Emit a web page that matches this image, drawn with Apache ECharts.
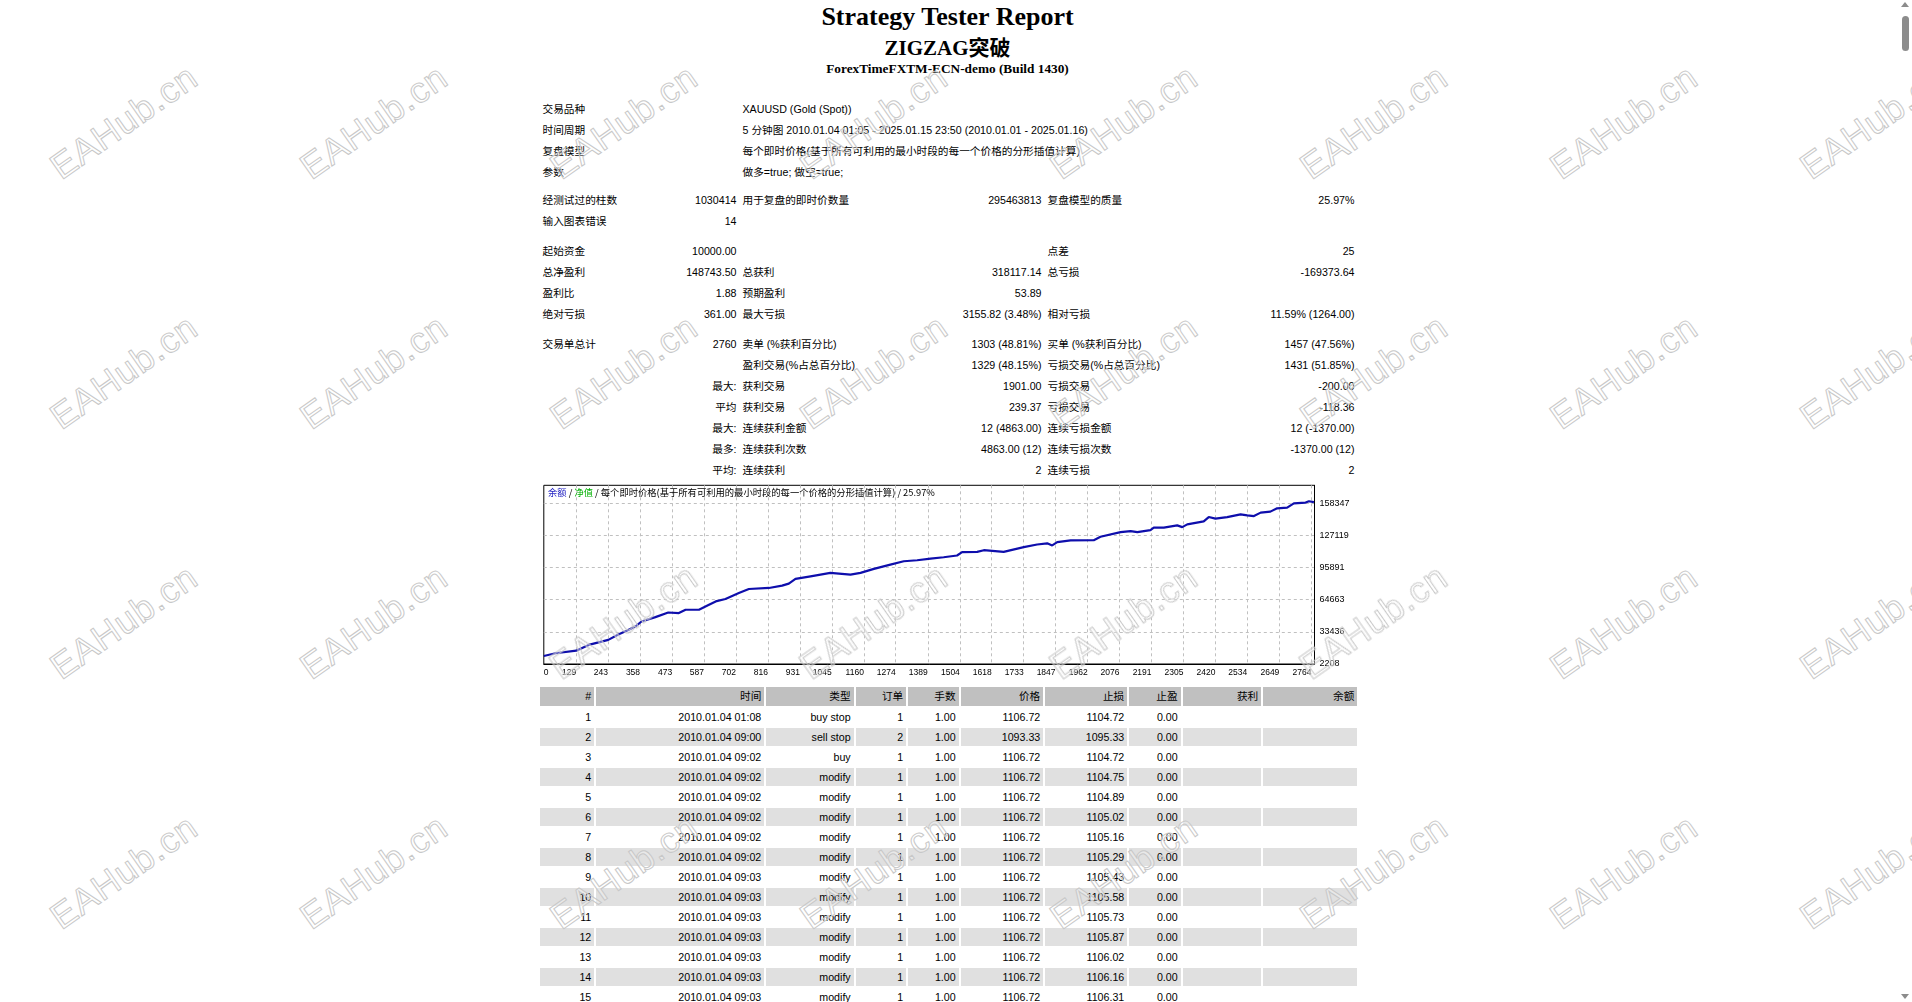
<!DOCTYPE html>
<html>
<head>
<meta charset="utf-8">
<title>Strategy Tester Report</title>
<script src="https://cdn.jsdelivr.net/npm/echarts@6/dist/echarts.min.js"></script>
<style>
html, body { margin:0; padding:0; background:#fff; overflow:hidden; width:1912px; height:1002px; }
body { position:relative; font-family:"Liberation Sans","Noto Sans CJK SC",sans-serif; font-size:10.67px; color:#000; }
.h { position:absolute; left:0; width:1895px; text-align:center; font-family:"Liberation Serif","Noto Sans CJK SC",serif; font-weight:bold; white-space:nowrap; }
#stats { position:absolute; left:539.5px; top:99px; width:818px; }
#stats .row { display:grid; grid-template-columns:100px 100px 152px 153px 150px 163px; height:21px; line-height:21px; }
#stats .row div { padding:0 3px; white-space:nowrap; box-sizing:border-box; }
#stats .r { text-align:right; }
#chart { position:absolute; left:537.5px; top:483px; width:820px; height:200px; }
#trades { position:absolute; left:540px; top:687px; display:grid;
  grid-template-columns:54.3px 168px 87.4px 50.6px 50.4px 82.6px 82px 51.4px 78.6px 94.2px;
  column-gap:2px; row-gap:2px; grid-template-rows:19px; grid-auto-rows:18px; }
#trades div { text-align:right; padding-right:3px; box-sizing:border-box; line-height:18px; white-space:nowrap; }
#trades div.hd { background:#c0c0c0; line-height:19px; }
#trades div.g { background:#e0e0e0; }
.wm { position:absolute; font-family:"Liberation Sans",sans-serif; font-size:36px; color:rgba(255,255,255,0.3);
  -webkit-text-stroke:1px #c8c8c8; transform:translate(-50%,-50%) rotate(-35deg); white-space:nowrap;
  pointer-events:none; z-index:10; letter-spacing:1px; }
#sb-thumb { position:absolute; left:1902px; top:16px; width:7px; height:35px; border-radius:4px; background:#8c8c8c; }
.sb-arrow { position:absolute; left:1901px; width:0; height:0; border-left:4.5px solid transparent; border-right:4.5px solid transparent; }
</style>
</head>
<body>
<div class="h" style="top:2px;font-size:26px;line-height:30px;">Strategy Tester Report</div>
<div class="h" style="top:36px;font-size:21px;line-height:24px;">ZIGZAG突破</div>
<div class="h" style="top:61px;font-size:13.3px;line-height:16px;">ForexTimeFXTM-ECN-demo (Build 1430)</div>

<div id="stats">
  <div class="row"><div style="grid-column:1/3">交易品种</div><div style="grid-column:3/7">XAUUSD (Gold (Spot))</div></div>
  <div class="row"><div style="grid-column:1/3">时间周期</div><div style="grid-column:3/7">5 分钟图 2010.01.04 01:05 - 2025.01.15 23:50 (2010.01.01 - 2025.01.16)</div></div>
  <div class="row"><div style="grid-column:1/3">复盘模型</div><div style="grid-column:3/7">每个即时价格(基于所有可利用的最小时段的每一个价格的分形插值计算)</div></div>
  <div class="row"><div style="grid-column:1/3">参数</div><div style="grid-column:3/7">做多=true; 做空=true;</div></div>
  <div style="height:7px"></div>
  <div class="row"><div>经测试过的柱数</div><div class="r">1030414</div><div>用于复盘的即时价数量</div><div class="r">295463813</div><div>复盘模型的质量</div><div class="r">25.97%</div></div>
  <div class="row"><div>输入图表错误</div><div class="r">14</div><div></div><div></div><div></div><div></div></div>
  <div style="height:9px"></div>
  <div class="row"><div>起始资金</div><div class="r">10000.00</div><div></div><div></div><div>点差</div><div class="r">25</div></div>
  <div class="row"><div>总净盈利</div><div class="r">148743.50</div><div>总获利</div><div class="r">318117.14</div><div>总亏损</div><div class="r">-169373.64</div></div>
  <div class="row"><div>盈利比</div><div class="r">1.88</div><div>预期盈利</div><div class="r">53.89</div><div></div><div></div></div>
  <div class="row"><div>绝对亏损</div><div class="r">361.00</div><div>最大亏损</div><div class="r">3155.82 (3.48%)</div><div>相对亏损</div><div class="r">11.59% (1264.00)</div></div>
  <div style="height:9px"></div>
  <div class="row"><div>交易单总计</div><div class="r">2760</div><div>卖单 (%获利百分比)</div><div class="r">1303 (48.81%)</div><div>买单 (%获利百分比)</div><div class="r">1457 (47.56%)</div></div>
  <div class="row"><div></div><div></div><div>盈利交易(%占总百分比)</div><div class="r">1329 (48.15%)</div><div>亏损交易(%占总百分比)</div><div class="r">1431 (51.85%)</div></div>
  <div class="row"><div></div><div class="r">最大:</div><div>获利交易</div><div class="r">1901.00</div><div>亏损交易</div><div class="r">-200.00</div></div>
  <div class="row"><div></div><div class="r">平均</div><div>获利交易</div><div class="r">239.37</div><div>亏损交易</div><div class="r">-118.36</div></div>
  <div class="row"><div></div><div class="r">最大:</div><div>连续获利金额</div><div class="r">12 (4863.00)</div><div>连续亏损金额</div><div class="r">12 (-1370.00)</div></div>
  <div class="row"><div></div><div class="r">最多:</div><div>连续获利次数</div><div class="r">4863.00 (12)</div><div>连续亏损次数</div><div class="r">-1370.00 (12)</div></div>
  <div class="row"><div></div><div class="r">平均:</div><div>连续获利</div><div class="r">2</div><div>连续亏损</div><div class="r">2</div></div>
</div>

<div id="chart"></div>
<div id="trades"></div>

<div id="sb-thumb"></div>
<div class="sb-arrow" style="top:2px;border-bottom:5px solid #8c8c8c;"></div>
<div class="sb-arrow" style="top:994px;border-top:5px solid #8c8c8c;"></div>

<script>
// 余额曲线
var balanceX = [13, 55, 129, 174, 244, 282, 312, 341, 363, 413,
  459, 497, 521, 569, 605, 629, 664, 712, 748, 820,
  867, 891, 915, 921, 969, 1040, 1112, 1148, 1196, 1255,
  1303, 1351, 1399, 1446, 1494, 1512, 1566, 1590, 1661, 1733,
  1781, 1817, 1835, 1853, 1901, 1984, 2008, 2080, 2116, 2140,
  2187, 2199, 2235, 2283, 2301, 2319, 2378, 2396, 2420, 2462,
  2510, 2534, 2558, 2582, 2617, 2641, 2677, 2701, 2743, 2755, 2773];
var balanceY = [10000, 12650, 15190, 20750, 25630, 31190, 34700, 38610, 43490, 47780,
  52270, 51680, 54900, 54900, 59790, 63010, 65350, 71200, 75100, 76080,
  78330, 80280, 84840, 86430, 87410, 90720, 89060, 90720, 94620, 98820,
  102040, 103020, 104680, 105950, 107600, 110830, 111220, 112780, 111220, 115720,
  118340, 119500, 117400, 120580, 122240, 122540, 125850, 130340, 131320, 130340,
  132290, 134640, 134640, 136880, 135220, 137860, 140790, 144990, 143420, 144990,
  147620, 146640, 145960, 149280, 150260, 153470, 154160, 158350, 159040, 160310, 159500];

var xTicks = [129, 243, 358, 473, 587, 702, 816, 931, 1045, 1160, 1274, 1389,
  1504, 1618, 1733, 1847, 1962, 2076, 2191, 2305, 2420, 2534, 2649, 2764];
var xZeroLabel = '0';
var yTicks = [2208, 33436, 64663, 95891, 127119, 158347];
var xMin = 13, xMax = 2775;
var yMin = 2208, yMax = 175840;

// 交易明细
var tradeTime = ['2010.01.04 01:08', '2010.01.04 09:00', '2010.01.04 09:02', '2010.01.04 09:02', '2010.01.04 09:02',
  '2010.01.04 09:02', '2010.01.04 09:02', '2010.01.04 09:02', '2010.01.04 09:03', '2010.01.04 09:03',
  '2010.01.04 09:03', '2010.01.04 09:03', '2010.01.04 09:03', '2010.01.04 09:03', '2010.01.04 09:03'];
var tradeType = ['buy stop', 'sell stop', 'buy', 'modify', 'modify', 'modify', 'modify', 'modify',
  'modify', 'modify', 'modify', 'modify', 'modify', 'modify', 'modify'];
var tradeOrder = ['1', '2', '1', '1', '1', '1', '1', '1', '1', '1', '1', '1', '1', '1', '1'];
var tradeLots = ['1.00', '1.00', '1.00', '1.00', '1.00', '1.00', '1.00', '1.00', '1.00', '1.00', '1.00', '1.00', '1.00', '1.00', '1.00'];
var tradePrice = ['1106.72', '1093.33', '1106.72', '1106.72', '1106.72', '1106.72', '1106.72', '1106.72',
  '1106.72', '1106.72', '1106.72', '1106.72', '1106.72', '1106.72', '1106.72'];
var tradeSL = ['1104.72', '1095.33', '1104.72', '1104.75', '1104.89', '1105.02', '1105.16', '1105.29',
  '1105.43', '1105.58', '1105.73', '1105.87', '1106.02', '1106.16', '1106.31'];
var tradeTP = ['0.00', '0.00', '0.00', '0.00', '0.00', '0.00', '0.00', '0.00', '0.00', '0.00', '0.00', '0.00', '0.00', '0.00', '0.00'];
var tradeHeader = ['#', '时间', '类型', '订单', '手数', '价格', '止损', '止盈', '获利', '余额'];

// 水印位置
var wmCols = [124, 374, 624, 874, 1124, 1374, 1624, 1874];
var wmRows = [122, 372, 622, 872];

// 表格
var tbl = document.getElementById('trades');
function cell(txt, cls) {
  var d = document.createElement('div');
  d.textContent = txt;
  if (cls) d.className = cls;
  tbl.appendChild(d);
}
tradeHeader.forEach(function (h) { cell(h, 'hd'); });
for (var i = 0; i < tradeTime.length; i++) {
  var cls = (i % 2 == 1) ? 'g' : '';
  cell(String(i + 1), cls);
  cell(tradeTime[i], cls);
  cell(tradeType[i], cls);
  cell(tradeOrder[i], cls);
  cell(tradeLots[i], cls);
  cell(tradePrice[i], cls);
  cell(tradeSL[i], cls);
  cell(tradeTP[i], cls);
  cell('', cls);
  cell('', cls);
}

// 水印
wmRows.forEach(function (y) {
  wmCols.forEach(function (x) {
    var w = document.createElement('div');
    w.className = 'wm';
    w.textContent = 'EAHub.cn';
    w.style.left = x + 'px';
    w.style.top = y + 'px';
    document.body.appendChild(w);
  });
});

// 图表
var myChart = echarts.init(document.getElementById('chart'));
var lineData = balanceX.map(function (x, i) { return [x, balanceY[i]]; });
var gridLine = { color: '#c0c0c0', type: [3, 3], width: 1 };

var option = {
  animation: false,
  backgroundColor: '#fff',
  title: {
    text: '{b|余额} / {g|净值} / 每个即时价格(基于所有可利用的最小时段的每一个价格的分形插值计算) / 25.97%',
    left: 10, top: 5, padding: 0,
    textStyle: {
      fontSize: 9.3, fontWeight: 'normal', color: '#000', fontFamily: 'Noto Sans CJK SC',
      rich: {
        b: { color: '#1c1cc0', fontSize: 9.3, fontFamily: 'Noto Sans CJK SC' },
        g: { color: '#00b000', fontSize: 9.3, fontFamily: 'Noto Sans CJK SC' }
      }
    }
  },
  grid: {
    left: 5.8, top: 2.3, width: 770.7, height: 178.7,
    show: true, borderColor: '#000', borderWidth: 1, backgroundColor: '#fff'
  },
  xAxis: [{
    type: 'value', min: xMin, max: xMax, position: 'bottom',
    axisLine: { show: true, lineStyle: { color: '#000', width: 1 } },
    axisTick: { show: false, customValues: xTicks },
    splitLine: { show: true, customValues: xTicks, lineStyle: gridLine },
    axisLabel: {
      customValues: xTicks, interval: 0, align: 'right', margin: 4,
      fontSize: 8.5, color: '#000', fontFamily: 'Liberation Sans',
      formatter: function (v) { return String(v); }
    }
  }, {
    type: 'value', min: xMin, max: xMax, position: 'bottom',
    axisLine: { show: false }, axisTick: { show: false }, splitLine: { show: false },
    axisLabel: {
      customValues: [xMin], align: 'left', margin: 4,
      fontSize: 8.5, color: '#000', fontFamily: 'Liberation Sans',
      formatter: function () { return xZeroLabel; }
    }
  }],
  yAxis: {
    type: 'value', min: yMin, max: yMax, position: 'right',
    axisLine: { show: true, lineStyle: { color: '#000', width: 1 } },
    axisTick: { show: false, customValues: yTicks },
    splitLine: { show: true, customValues: yTicks, lineStyle: gridLine },
    axisLabel: {
      customValues: yTicks, interval: 0, align: 'left', margin: 5,
      fontSize: 9, color: '#000', fontFamily: 'Liberation Sans',
      formatter: function (v) { return String(v); }
    }
  },
  series: [{
    name: '余额',
    type: 'line',
    xAxisIndex: 0,
    yAxisIndex: 0,
    data: lineData,
    showSymbol: false,
    lineStyle: { color: '#0e0eac', width: 2.2 },
    itemStyle: { color: '#0e0eac' }
  }]
};
myChart.setOption(option);
</script>
</body>
</html>
